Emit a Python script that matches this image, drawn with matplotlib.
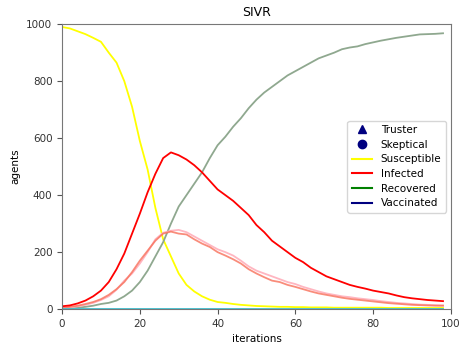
import matplotlib
matplotlib.use("Agg")
import matplotlib.pyplot as plt

# iterations sampled every 2 steps
iterations = list(range(0, 100, 2))

susceptible = [990, 985, 975, 965, 952, 938, 900, 865, 800, 710,
               590, 490, 355, 245, 185, 125, 85, 62, 45, 33,
               25, 22, 18, 15, 13, 11, 10, 9, 8, 8,
               7, 7, 6, 6, 6, 5, 5, 5, 5, 5,
               5, 5, 4, 4, 4, 4, 4, 4, 4, 4]
infected = [10, 13, 20, 30, 45, 65, 95, 140, 195, 265,
            335, 410, 475, 530, 550, 540, 525, 505, 480, 450,
            420, 400, 380, 355, 330, 295, 270, 240, 220, 200,
            180, 165, 145, 130, 115, 105, 95, 85, 78, 72,
            65, 60, 55, 48, 42, 38, 35, 32, 30, 28]
infected_truster = [5, 8, 12, 18, 25, 35, 50, 70, 95, 130,
                    170, 205, 240, 265, 272, 265, 262, 245, 230, 218,
                    200, 188, 175, 160, 140, 125, 112, 100, 95, 85,
                    78, 70, 62, 55, 50, 45, 40, 36, 33, 30,
                    27, 24, 21, 19, 17, 15, 14, 13, 12, 12]
infected_skeptical = [3, 6, 10, 15, 22, 32, 45, 68, 100, 125,
                      160, 200, 245, 268, 275, 278, 270, 255, 240, 225,
                      210, 200, 188, 170, 150, 135, 125, 115, 105, 95,
                      88, 78, 70, 62, 55, 50, 45, 42, 38, 35,
                      32, 28, 25, 22, 20, 18, 16, 15, 14, 13]
recovered = [0, 2, 5, 8, 12, 18, 22, 30, 45, 65,
             95, 135, 185, 235, 300, 360, 400, 440, 480, 530,
             575, 605, 640, 670, 705, 735, 760, 780, 800, 820,
             835, 850, 865, 880, 890, 900, 912, 918, 922, 930,
             936, 942, 947, 952, 956, 960, 964, 965, 966, 968]
vaccinated = [0] * len(iterations)

fig = plt.figure(figsize=(4.6, 3.45), dpi=100)
ax = fig.add_axes([0.135, 0.104, 0.845, 0.826])

ax.plot(iterations, susceptible, color='yellow', lw=1.3)
ax.plot(iterations, recovered, color='#8fa88f', lw=1.3)
ax.plot(iterations, infected_skeptical, color='lightpink', lw=1.3)
ax.plot(iterations, infected_truster, color='#f8705a', lw=1.3, alpha=0.8)
ax.plot(iterations, infected, color='red', lw=1.3)
ax.plot(iterations, vaccinated, color='#3fc0d0', lw=1.3)

# legend-only handles
ax.plot([], [], '^', color='navy', label='Truster')
ax.plot([], [], 'o', color='navy', label='Skeptical')
ax.plot([], [], color='yellow', label='Susceptible')
ax.plot([], [], color='red', label='Infected')
ax.plot([], [], color='green', label='Recovered')
ax.plot([], [], color='navy', label='Vaccinated')
ax.legend(loc='center right', fontsize=7.5, labelspacing=0.45)

ax.set_xlim(0, 100)
ax.set_ylim(0, 1000)
ax.set_title('SIVR', fontsize=9)
ax.set_xlabel('iterations', fontsize=7.5)
ax.set_ylabel('agents', fontsize=7.5)
ax.tick_params(labelsize=7.5, colors='#555555', labelcolor='#333333')
for s in ax.spines.values():
    s.set_color('#777777')

fig.savefig('out.png', dpi=100)
